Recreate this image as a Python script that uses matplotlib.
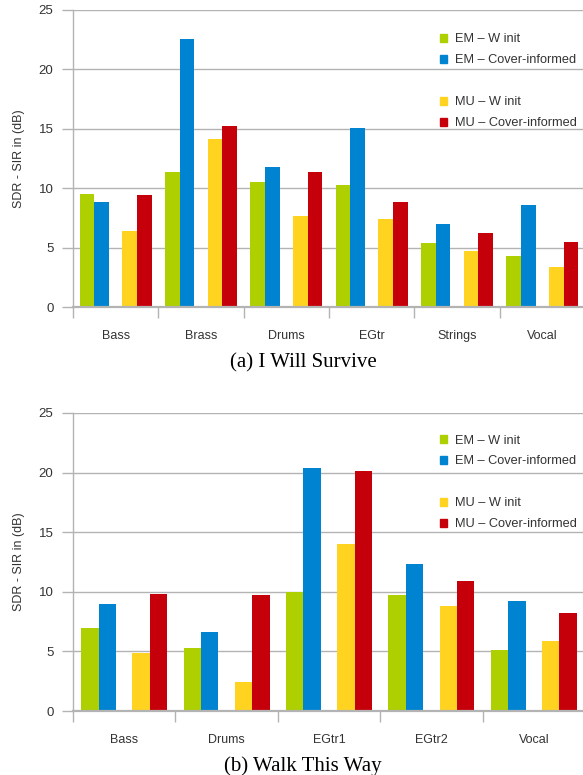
import numpy as np
import matplotlib
matplotlib.use("Agg")
import matplotlib.pyplot as plt
from matplotlib.patches import Patch

# SDR - SIR per source, four separation variants
survive_sources = ["Bass", "Brass", "Drums", "EGtr", "Strings", "Vocal"]
survive_em_winit = [9.5, 11.4, 10.5, 10.3, 5.4, 4.3]
survive_em_cover = [8.8, 22.6, 11.8, 15.1, 7.0, 8.6]
survive_mu_winit = [6.4, 14.1, 7.7, 7.4, 4.7, 3.4]
survive_mu_cover = [9.4, 15.2, 11.4, 8.8, 6.2, 5.5]

walk_sources = ["Bass", "Drums", "EGtr1", "EGtr2", "Vocal"]
walk_em_winit = [7.0, 5.3, 10.0, 9.7, 5.1]
walk_em_cover = [9.0, 6.6, 20.4, 12.3, 9.2]
walk_mu_winit = [4.9, 2.4, 14.0, 8.8, 5.9]
walk_mu_cover = [9.8, 9.7, 20.1, 10.9, 8.2]

series_labels = ["EM – W init", "EM – Cover-informed", "MU – W init", "MU – Cover-informed"]
series_colors = ["#aecf00", "#0084d1", "#ffd320", "#c5000b"]
y_ticks = [0, 5, 10, 15, 20, 25]

GRID = "#b3b3b3"
TEXT = "#333333"
SANS = ["Liberation Sans", "DejaVu Sans"]
SERIF = ["Liberation Serif", "DejaVu Serif"]

W, H = 583, 775
fig = plt.figure(figsize=(W / 100, H / 100), dpi=100)


def panel(rect, sources, em_w, em_c, mu_w, mu_c, caption, cap_y, leg_top):
    ax = fig.add_axes(rect)
    x = np.arange(len(sources))
    w = 0.17
    offsets = [-0.25 - w / 2, -0.25 + w / 2, 0.25 - w / 2, 0.25 + w / 2]
    for vals, off, col in zip([em_w, em_c, mu_w, mu_c], offsets, series_colors):
        ax.bar(x + off, vals, width=w, color=col, linewidth=0, zorder=3)

    ax.set_xlim(-0.5, len(sources) - 0.5)
    ax.set_ylim(0, 25)
    ax.set_yticks(y_ticks)
    ax.yaxis.grid(True, color=GRID, linewidth=1.0, zorder=0)
    ax.set_axisbelow(True)

    for s in ["top", "right"]:
        ax.spines[s].set_visible(False)
    ax.spines["left"].set_color(GRID)
    ax.spines["left"].set_linewidth(1.0)
    ax.spines["bottom"].set_color(GRID)
    ax.spines["bottom"].set_linewidth(1.6)
    ax.spines["bottom"].set_zorder(4)

    # category separators as minor ticks, labels on invisible major ticks
    ax.set_xticks(x)
    ax.set_xticklabels(sources, fontsize=9, family=SANS, color=TEXT)
    ax.set_xticks(np.arange(len(sources) + 1) - 0.5, minor=True)
    ax.tick_params(axis="x", which="major", length=0, pad=16.5)
    ax.tick_params(axis="x", which="minor", length=8, width=1.0, color=GRID, direction="out")
    ax.tick_params(axis="y", length=8, width=1.0, color=GRID, pad=6,
                   labelsize=9.5, labelcolor=TEXT)
    for lab in ax.get_yticklabels():
        lab.set_family(SANS)

    ax.set_ylabel("SDR - SIR in (dB)", fontsize=9, family=SANS, color=TEXT, labelpad=10)

    handles = [Patch(color=series_colors[0]), Patch(color=series_colors[1]),
               Patch(color="none"), Patch(color=series_colors[2]), Patch(color=series_colors[3])]
    labels = [series_labels[0], series_labels[1], "", series_labels[2], series_labels[3]]
    leg = fig.legend(handles, labels, loc="upper left", bbox_to_anchor=(440 / W, leg_top),
                     frameon=False, borderpad=0, borderaxespad=0,
                     handlelength=0.55, handleheight=0.55, handletextpad=0.65,
                     labelspacing=0.7, prop={"family": SANS, "size": 9.2})
    for t in leg.get_texts():
        t.set_color(TEXT)

    fig.text(303 / W, cap_y, caption, ha="center", va="baseline",
             fontsize=15, family=SERIF, color="black")
    return ax


panel([73 / W, 1 - 307 / H, 512 / W, 297 / H], survive_sources,
      survive_em_winit, survive_em_cover, survive_mu_winit, survive_mu_cover,
      "(a) I Will Survive", 1 - 367 / H, 1 - 33.5 / H)
panel([73 / W, 1 - 711 / H, 512 / W, 298 / H], walk_sources,
      walk_em_winit, walk_em_cover, walk_mu_winit, walk_mu_cover,
      "(b) Walk This Way", 1 - 771 / H, 1 - 434.5 / H)

fig.savefig("out.png", dpi=100)
